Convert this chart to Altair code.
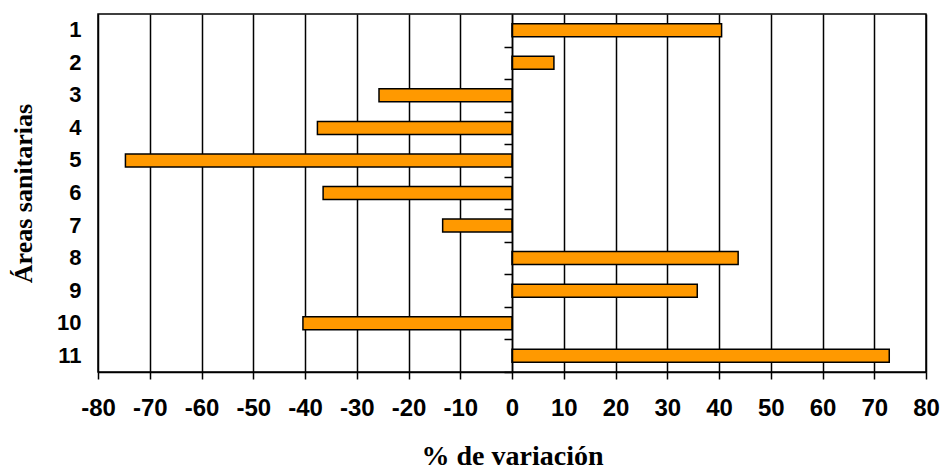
import altair as alt
import pandas as pd

# Percentage change by health area
areas = ["1", "2", "3", "4", "5", "6", "7", "8", "9", "10", "11"]
variacion = [40.5, 8.1, -25.7, -37.6, -74.7, -36.5, -13.4, 43.7, 35.8, -40.4, 72.9]
x_ticks = list(range(-80, 81, 10))

df = pd.DataFrame({"area": areas, "variacion": variacion})

SANS = "Liberation Sans"
SERIF = "Liberation Serif"

PLOT_W = 828
PLOT_H = 358
STEP = PLOT_H / len(areas)

x_enc = alt.X(
    "variacion:Q",
    scale=alt.Scale(domain=[-80, 80], nice=False, zero=False),
    axis=alt.Axis(
        values=x_ticks,
        labelExpr="'' + datum.value",
        grid=True,
        gridColor="black",
        gridWidth=1.5,
        gridOpacity=1,
        domainColor="black",
        domainWidth=1.5,
        tickColor="black",
        tickWidth=1.5,
        tickSize=7,
        labelFont=SANS,
        labelFontSize=24,
        labelFontWeight="bold",
        labelColor="black",
        labelPadding=17,
        labelFlush=False,
        title="% de variación",
        titleFont=SERIF,
        titleFontSize=28,
        titleFontWeight="bold",
        titleColor="black",
        titlePadding=22,
    ),
)

y_scale = alt.Scale(paddingInner=0.6, paddingOuter=0.3)

bars = alt.Chart(df).mark_bar(
    color="#FF9900", stroke="black", strokeWidth=1.5
).encode(
    x=x_enc,
    y=alt.Y(
        "area:N",
        sort=areas,
        scale=y_scale,
        axis=alt.Axis(
            orient="left",
            ticks=False,
            tickSize=0,
            domain=False,
            labelFont=SANS,
            labelFontSize=22,
            labelFontWeight="bold",
            labelColor="black",
            labelPadding=17,
            labelAngle=0,
            title="Áreas sanitarias",
            titleFont=SERIF,
            titleFontSize=26,
            titleFontWeight="bold",
            titleColor="black",
            titlePadding=20,
        ),
    ),
)

# Category axis drawn along the zero line, with ticks between areas
zero_axis = alt.Chart(df).mark_tick(opacity=0).encode(
    x=alt.X("variacion:Q"),
    y=alt.Y(
        "area:N",
        sort=areas,
        scale=y_scale,
        axis=alt.Axis(
            orient="left",
            offset=-PLOT_W / 2,
            labels=False,
            ticks=True,
            tickOffset=STEP / 2,
            tickSize=8,
            tickColor="black",
            tickWidth=1.5,
            domain=True,
            domainColor="black",
            domainWidth=1.5,
            title=None,
            zindex=1,
        ),
    ),
)

chart = (
    alt.layer(bars, zero_axis)
    .resolve_axis(y="independent")
    .properties(
        width=PLOT_W,
        height=PLOT_H,
        autosize=alt.AutoSizeParams(type="none"),
        padding={"left": 98, "top": 14, "right": 15, "bottom": 97},
        background="white",
    )
    .configure_view(stroke="black", strokeWidth=1.5)
)

chart.save("out.html", embed_options={"renderer": "svg", "actions": False})
